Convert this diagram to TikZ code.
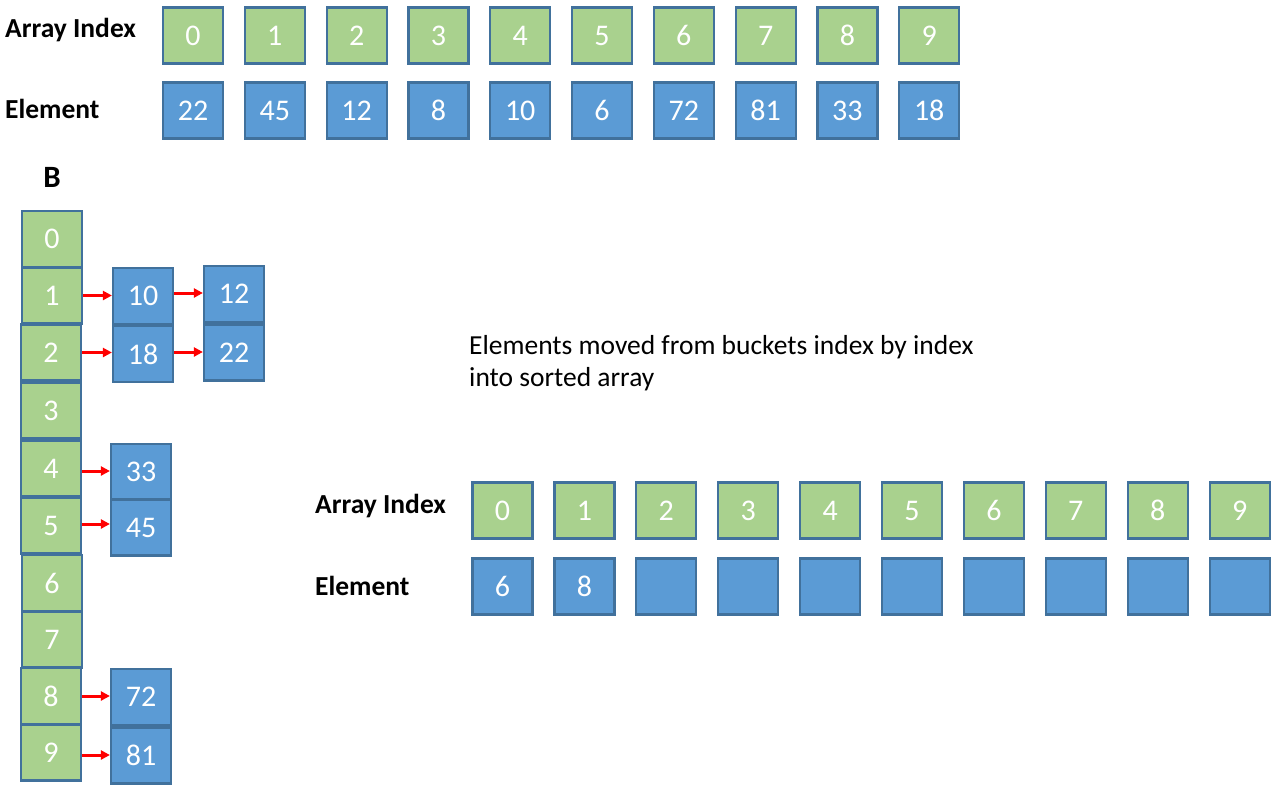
\documentclass[tikz,border=0pt]{standalone}
\usepackage{fontspec}
\setmainfont{Carlito}
\usetikzlibrary{arrows.meta}
\definecolor{gfill}{HTML}{A9D18E}
\definecolor{bfill}{HTML}{5B9BD5}
\definecolor{bord}{HTML}{41719C}
\definecolor{arrred}{HTML}{FF0000}
\tikzset{
  cell/.style={draw=bord, line width=2.2pt, minimum width=60pt, minimum height=56pt, inner sep=0pt, text=white, font=\fontsize{30}{32}\selectfont},
  gcell/.style={cell, fill=gfill},
  bcell/.style={cell, fill=bfill},
  lbl/.style={anchor=base west, inner sep=0pt, font=\fontsize{27.5}{30}\selectfont\bfseries},
  arr/.style={draw=arrred, line width=3pt, -{Triangle[length=9pt,width=9pt]}},
}
\begin{document}
\begin{tikzpicture}[x=1pt,y=-1pt]
\useasboundingbox[fill=white] (0,0) rectangle (1280,797);
% top arrays
\node[lbl] (tAI) at (5,38) {Array Index};
\node[lbl] (tEl) at (5,119) {Element};
\foreach \v [count=\i from 0] in {22,45,12,8,10,6,72,81,33,18} {
  \node[gcell] (ti\i) at ({193+81.8*\i},35.5) {\i};
  \node[bcell] (te\i) at ({193+81.8*\i},110.5) {\v};
}
% B label
\node[lbl, anchor=base, font=\fontsize{31}{32}\selectfont\bfseries] (B) at (52,187) {B};
% bucket column
\node[gcell] (b0) at (52,239) {0};
\node[gcell] (b1) at (52,295.5) {1};
\node[gcell] (b2) at (51,352.5) {2};
\node[gcell] (b3) at (51,410.5) {3};
\node[gcell] (b4) at (51,468.5) {4};
\node[gcell] (b5) at (51,525.5) {5};
\node[gcell] (b6) at (52,583) {6};
\node[gcell] (b7) at (52,639.5) {7};
\node[gcell] (b8) at (51,696) {8};
\node[gcell] (b9) at (51,752.5) {9};
% chains
\node[bcell] (c10) at (143,296) {10};
\node[bcell] (c18) at (143,354) {18};
\node[bcell] (c12) at (234,294) {12};
\node[bcell] (c22) at (234,352.5) {22};
\node[bcell] (c33) at (141,472) {33};
\node[bcell] (c45) at (141,527.5) {45};
\node[bcell] (c72) at (141,697) {72};
\node[bcell] (c81) at (141,755.5) {81};
% arrows
\draw[arr] (b1.east) -- (c10.west |- b1.east);
\draw[arr] (b2.east) -- (c18.west |- b2.east);
\draw[arr] (c10.east |- 0,293) -- (c12.west |- 0,293);
\draw[arr] (c18.east |- 0,352) -- (c22.west |- 0,352);
\draw[arr] (b4.east |- 0,471) -- (c33.west |- 0,471);
\draw[arr] (b5.east |- 0,524) -- (c45.west |- 0,524);
\draw[arr] (b8.east |- 0,696) -- (c72.west |- 0,696);
\draw[arr] (b9.east |- 0,755) -- (c81.west |- 0,755);
% note
\node[anchor=base west, inner sep=0pt, align=left, font=\fontsize{27.5}{32}\selectfont] (note) at (469,386) {Elements moved from buckets index by index\\into sorted array};
% bottom arrays
\node[lbl] (bAI) at (315,513) {Array Index};
\node[lbl] (bEl) at (315,595) {Element};
\foreach \v [count=\i from 0] in {6,8,,,,,,,,} {
  \node[gcell] (si\i) at ({502.5+81.9*\i},510.5) {\i};
  \node[bcell] (se\i) at ({502.5+81.9*\i},586.5) {\v};
}
\end{tikzpicture}
\end{document}
